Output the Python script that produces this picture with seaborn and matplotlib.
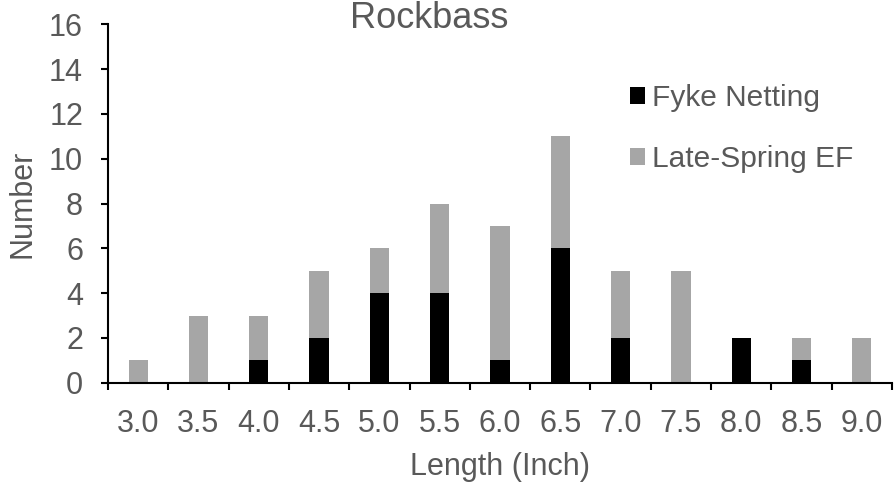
import matplotlib
matplotlib.use("Agg")
import matplotlib.pyplot as plt
from matplotlib.patches import Patch
import numpy as np
import pandas as pd
import seaborn as sns

# Rockbass length-frequency data
lengths = ["3.0", "3.5", "4.0", "4.5", "5.0", "5.5", "6.0", "6.5", "7.0", "7.5", "8.0", "8.5", "9.0"]
fyke_netting = [0, 0, 1, 2, 4, 4, 1, 6, 2, 0, 2, 1, 0]
late_spring_ef = [1, 3, 2, 3, 2, 4, 6, 5, 3, 5, 0, 1, 2]
series_names = ["Fyke Netting", "Late-Spring EF"]
y_ticks = [0, 2, 4, 6, 8, 10, 12, 14, 16]

TEXT = "#595959"
BLACK = "#000000"
GRAY = "#A6A6A6"
FONT = ["Liberation Sans", "DejaVu Sans"]

sns.set_style("white")
plt.rcParams["font.family"] = FONT

df = pd.DataFrame({
    "Length": lengths,
    "Fyke": fyke_netting,
    "Late": late_spring_ef,
})
df["Stack"] = df["Fyke"] + df["Late"]

fig = plt.figure(figsize=(8.94, 4.82), dpi=100)
ax = fig.add_axes([108 / 894, 1 - 382.7 / 482, (892 - 108) / 894, (382.7 - 24.3) / 482])

# stacked bars: full stack in gray, fyke portion in black at the base
sns.barplot(data=df, x="Length", y="Stack", color=GRAY, width=0.32,
            saturation=1, linewidth=0, ax=ax, order=lengths)
sns.barplot(data=df, x="Length", y="Fyke", color=BLACK, width=0.32,
            saturation=1, linewidth=0, ax=ax, order=lengths)

ax.set_ylim(0, 16)
ax.set_yticks(y_ticks)
ax.set_xlim(-0.5, len(lengths) - 0.5)

# category labels at centers, tick marks at category boundaries
ax.set_xticks(range(len(lengths)))
ax.set_xticklabels(lengths)
ax.set_xticks(np.arange(-0.5, len(lengths)), minor=True)
ax.tick_params(axis="x", which="major", length=0, pad=19, labelsize=22, labelcolor=TEXT)
ax.tick_params(axis="x", which="minor", length=5, width=1.5, color=BLACK, direction="out", bottom=True)
ax.tick_params(axis="y", which="major", length=5, width=1.5, color=BLACK, direction="out",
               pad=13, labelsize=22, labelcolor=TEXT, left=True)

for side in ["top", "right"]:
    ax.spines[side].set_visible(False)
for side in ["left", "bottom"]:
    ax.spines[side].set_color(BLACK)
    ax.spines[side].set_linewidth(1.5)

ax.set_xlabel("Length (Inch)", fontsize=22, color=TEXT, labelpad=9)
ax.set_ylabel("Number", fontsize=22, color=TEXT, labelpad=8)

fig.text(429 / 894, 1 - 28.3 / 482, "Rockbass", ha="center", va="baseline", fontsize=26, color=TEXT)

handles = [Patch(facecolor=BLACK, edgecolor="none"), Patch(facecolor=GRAY, edgecolor="none")]
ax.legend(handles, series_names, loc="upper left", bbox_to_anchor=((630 - 108) / 784, 0.834),
          frameon=False, fontsize=21.5, labelcolor=TEXT, handlelength=0.5, handleheight=0.5,
          handletextpad=0.25, labelspacing=1.1, borderaxespad=0, borderpad=0)

fig.savefig("out.png", dpi=100)
